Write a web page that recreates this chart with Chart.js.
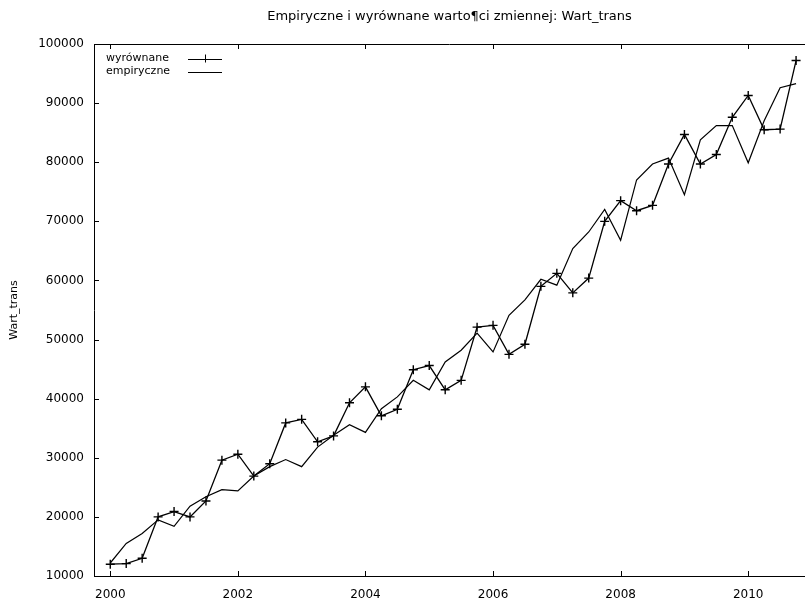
<!DOCTYPE html>
<html>
<head>
<meta charset="utf-8">
<title>Wart_trans</title>
<script src="https://cdn.jsdelivr.net/npm/chart.js@4.4.1/dist/chart.umd.min.js"></script>
<style>
  html, body { margin: 0; padding: 0; background: #ffffff; }
  #wrap { width: 805px; height: 599px; }
</style>
</head>
<body>
<div id="wrap"><canvas id="c" width="805" height="599"></canvas></div>
<script>
// Quarterly observations, 2000 Q1 .. 2010 Q4
const quarters = [
  2000.00, 2000.25, 2000.50, 2000.75, 2001.00, 2001.25, 2001.50, 2001.75,
  2002.00, 2002.25, 2002.50, 2002.75, 2003.00, 2003.25, 2003.50, 2003.75,
  2004.00, 2004.25, 2004.50, 2004.75, 2005.00, 2005.25, 2005.50, 2005.75,
  2006.00, 2006.25, 2006.50, 2006.75, 2007.00, 2007.25, 2007.50, 2007.75,
  2008.00, 2008.25, 2008.50, 2008.75, 2009.00, 2009.25, 2009.50, 2009.75,
  2010.00, 2010.25, 2010.50, 2010.75
];

// Fitted values (wyrównane)
const fitted = [
  12000, 12100, 13000, 20000, 20900, 20000, 22700, 29600,
  30600, 26900, 29000, 35900, 36500, 32700, 33700, 39300,
  42000, 37100, 38200, 44900, 45600, 41500, 43100, 52100,
  52400, 47500, 49200, 59000, 61200, 57900, 60400, 70000,
  73500, 71800, 72700, 79700, 84700, 79700, 81300, 87600,
  91300, 85500, 85600, 97200
];

// Observed values (empiryczne)
const empirical = [
  12200, 15500, 17200, 19500, 18400, 21800, 23400, 24600,
  24400, 26900, 28500, 29700, 28500, 31800, 33800, 35600,
  34300, 38300, 40300, 43100, 41500, 46200, 48200, 51100,
  47900, 54100, 56700, 60200, 59200, 65400, 68200, 72000,
  66800, 77000, 79700, 80700, 74500, 83800, 86200, 86200,
  79900, 87000, 92600, 93300
];

const yearTicks = [2000, 2002, 2004, 2006, 2008, 2010];
const valueTicks = [10000, 20000, 30000, 40000, 50000, 60000, 70000, 80000, 90000, 100000];

const FONT = 'DejaVu Sans';

// Border along the top edge plus short inward tick marks on the frame
const frameTicks = {
  id: 'frameTicks',
  afterDraw(chart) {
    const { ctx, chartArea: a, scales } = chart;
    const len = 5;
    ctx.save();
    ctx.strokeStyle = '#000';
    ctx.lineWidth = 1;
    ctx.beginPath();
    ctx.moveTo(a.left, Math.round(a.top) + 0.5);
    ctx.lineTo(a.right, Math.round(a.top) + 0.5);
    scales.x.ticks.forEach(t => {
      const px = Math.round(scales.x.getPixelForValue(t.value)) + 0.5;
      ctx.moveTo(px, a.bottom);
      ctx.lineTo(px, a.bottom - len);
      ctx.moveTo(px, a.top);
      ctx.lineTo(px, a.top + len);
    });
    scales.y.ticks.forEach(t => {
      const py = Math.round(scales.y.getPixelForValue(t.value)) + 0.5;
      ctx.moveTo(a.left, py);
      ctx.lineTo(a.left + len, py);
    });
    ctx.stroke();
    ctx.restore();
  }
};

// Key in the upper-left corner: label first, line sample to its right
const keyBox = {
  id: 'keyBox',
  afterDraw(chart) {
    const { ctx, chartArea: a } = chart;
    const textX = a.left + 12;
    const sampleX0 = a.left + 94;
    const sampleX1 = a.left + 128;
    const rowY = [a.top + 14.5, a.top + 27.5];
    ctx.save();
    ctx.font = '11px "' + FONT + '"';
    ctx.fillStyle = '#000';
    ctx.textAlign = 'left';
    ctx.textBaseline = 'middle';
    chart.data.datasets.forEach((ds, i) => {
      const y = rowY[i];
      ctx.fillText(ds.label, textX, y);
      ctx.strokeStyle = '#000';
      ctx.lineWidth = 1;
      ctx.beginPath();
      ctx.moveTo(sampleX0, Math.round(y) + 0.5);
      ctx.lineTo(sampleX1, Math.round(y) + 0.5);
      if (ds.pointStyle === 'cross') {
        const cx = Math.round((sampleX0 + sampleX1) / 2) + 0.5;
        ctx.moveTo(cx, y - 4);
        ctx.lineTo(cx, y + 4);
      }
      ctx.stroke();
    });
    ctx.restore();
  }
};

new Chart(document.getElementById('c'), {
  type: 'line',
  data: {
    datasets: [
      {
        label: 'wyrównane',
        data: quarters.map((q, i) => ({ x: q, y: fitted[i] })),
        borderColor: '#000',
        borderWidth: 1.3,
        pointStyle: 'cross',
        pointRadius: 4.5,
        pointBorderWidth: 1.4,
        pointBorderColor: '#000',
        pointBackgroundColor: '#000',
        fill: false,
        tension: 0
      },
      {
        label: 'empiryczne',
        data: quarters.map((q, i) => ({ x: q, y: empirical[i] })),
        borderColor: '#000',
        borderWidth: 1.2,
        pointRadius: 0,
        fill: false,
        tension: 0
      }
    ]
  },
  options: {
    responsive: false,
    animation: false,
    devicePixelRatio: 1,
    layout: { autoPadding: false, padding: 0 },
    plugins: {
      legend: { display: false },
      tooltip: { enabled: false },
      title: {
        display: true,
        text: 'Empiryczne i wyrównane warto¶ci zmiennej: Wart_trans',
        color: '#000',
        fullSize: false,
        font: { family: FONT, size: 13, weight: 'normal' },
        padding: { top: 9, bottom: 19.4 }
      }
    },
    scales: {
      x: {
        type: 'linear',
        min: 1999.745,
        max: 2010.89,
        afterBuildTicks: s => { s.ticks = yearTicks.map(v => ({ value: v })); },
        afterFit: s => { s.height = 23; s.paddingLeft = 0; s.paddingRight = 0; },
        ticks: {
          color: '#000',
          font: { family: FONT, size: 12 },
          padding: 12,
          maxRotation: 0,
          autoSkip: false,
          callback: v => String(v)
        },
        grid: { display: false, drawTicks: false },
        border: { display: true, color: '#000', width: 1 }
      },
      y: {
        min: 10000,
        max: 100000,
        afterBuildTicks: s => { s.ticks = valueTicks.map(v => ({ value: v })); },
        afterFit: s => { s.width = 94; },
        ticks: {
          color: '#000',
          font: { family: FONT, size: 12 },
          padding: 10,
          autoSkip: false,
          callback: v => String(v)
        },
        grid: { display: false, drawTicks: false },
        border: { display: true, color: '#000', width: 1 },
        title: {
          display: true,
          text: 'Wart_trans',
          color: '#000',
          font: { family: FONT, size: 11 },
          padding: { top: 8, bottom: 0 }
        }
      }
    }
  },
  plugins: [frameTicks, keyBox]
});
</script>
</body>
</html>
